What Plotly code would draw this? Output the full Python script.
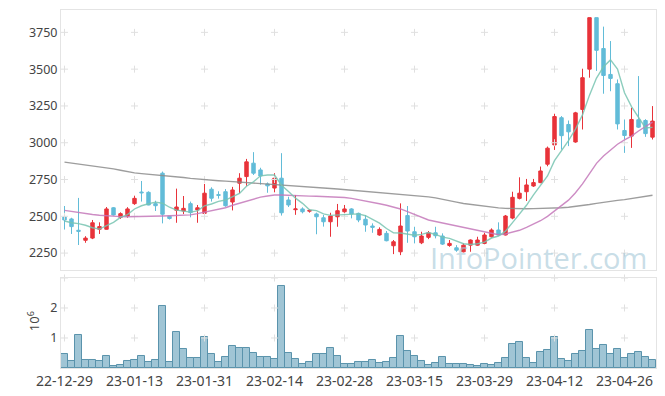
import plotly.graph_objects as go
from plotly.subplots import make_subplots

dates = [
    "22-12-29",
    "23-01-02", "23-01-03", "23-01-04", "23-01-05", "23-01-06", "23-01-09", "23-01-10", "23-01-11", "23-01-12", "23-01-13",
    "23-01-16", "23-01-17", "23-01-18", "23-01-19", "23-01-20", "23-01-25", "23-01-26", "23-01-27", "23-01-30", "23-01-31",
    "23-02-01", "23-02-02", "23-02-03", "23-02-06", "23-02-07", "23-02-08", "23-02-09", "23-02-10", "23-02-13", "23-02-14",
    "23-02-15", "23-02-16", "23-02-17", "23-02-20", "23-02-21", "23-02-22", "23-02-23", "23-02-24", "23-02-27", "23-02-28",
    "23-03-02", "23-03-03", "23-03-06", "23-03-07", "23-03-08", "23-03-09", "23-03-10", "23-03-13", "23-03-14", "23-03-15",
    "23-03-16", "23-03-17", "23-03-20", "23-03-21", "23-03-22", "23-03-23", "23-03-24", "23-03-27", "23-03-28", "23-03-29",
    "23-03-30", "23-03-31", "23-04-03", "23-04-04", "23-04-05", "23-04-06", "23-04-07", "23-04-10", "23-04-11", "23-04-12",
    "23-04-13", "23-04-14", "23-04-17", "23-04-18", "23-04-19", "23-04-20", "23-04-21", "23-04-24", "23-04-25", "23-04-26",
    "23-04-27", "23-04-28", "23-05-02", "23-05-03",
]

opens = [
    2495, 2482, 2405, 2337, 2352, 2412, 2412, 2558, 2493, 2502,
    2586, 2665, 2663, 2586, 2793, 2500, 2541, 2536, 2586, 2543,
    2520, 2684, 2647, 2667, 2597, 2725, 2770, 2861, 2815, 2720,
    2692, 2759, 2611, 2545, 2550, 2535, 2516, 2490, 2463, 2497,
    2531, 2550, 2520, 2480, 2434, 2373, 2384, 2300, 2259, 2505,
    2395, 2320, 2357, 2388, 2366, 2302, 2286, 2259, 2304, 2304,
    2316, 2361, 2407, 2373, 2488, 2622, 2667, 2706, 2729, 2854,
    2985, 3170, 3124, 3005, 3226, 3500, 3850, 3640, 3464, 3401,
    3083, 3045, 3156, 3151, 3038,
]
highs = [
    2570, 2490, 2625, 2365, 2475, 2459, 2563, 2563, 2527, 2562,
    2640, 2740, 2670, 2606, 2804, 2503, 2688, 2638, 2600, 2577,
    2720, 2697, 2670, 2685, 2700, 2793, 2890, 2936, 2830, 2730,
    2793, 2929, 2633, 2645, 2561, 2548, 2525, 2509, 2524, 2584,
    2577, 2555, 2525, 2509, 2452, 2425, 2400, 2339, 2588, 2570,
    2429, 2395, 2400, 2429, 2384, 2339, 2304, 2316, 2343, 2361,
    2388, 2418, 2459, 2509, 2667, 2765, 2754, 2754, 2838, 2974,
    3197, 3181, 3151, 3210, 3503, 3850, 3850, 3789, 3691, 3430,
    3158, 3237, 3453, 3160, 3249,
]
lows = [
    2410, 2380, 2305, 2320, 2345, 2380, 2410, 2505, 2482, 2490,
    2578, 2600, 2575, 2536, 2452, 2478, 2456, 2515, 2493, 2456,
    2515, 2600, 2620, 2565, 2540, 2657, 2707, 2781, 2715, 2660,
    2663, 2505, 2563, 2510, 2520, 2525, 2378, 2430, 2361, 2429,
    2520, 2486, 2460, 2395, 2388, 2368, 2330, 2243, 2236, 2320,
    2316, 2311, 2345, 2350, 2305, 2293, 2259, 2255, 2259, 2300,
    2310, 2355, 2370, 2370, 2480, 2615, 2604, 2700, 2725, 2840,
    2951, 2953, 2977, 3000, 3090, 3442, 3488, 3333, 3350, 3090,
    2931, 2965, 3100, 3040, 3022,
]
closes = [
    2475, 2430, 2398, 2352, 2456, 2430, 2550, 2509, 2518, 2550,
    2622, 2660, 2577, 2572, 2514, 2485, 2563, 2554, 2525, 2558,
    2657, 2623, 2643, 2572, 2679, 2759, 2870, 2793, 2774, 2707,
    2759, 2524, 2577, 2550, 2531, 2540, 2497, 2463, 2502, 2538,
    2550, 2516, 2475, 2441, 2425, 2411, 2334, 2327, 2434, 2400,
    2361, 2366, 2388, 2368, 2311, 2316, 2270, 2304, 2339, 2339,
    2373, 2407, 2373, 2502, 2629, 2657, 2713, 2729, 2808, 2963,
    3178, 3048, 3074, 3203, 3442, 3850, 3628, 3457, 3437, 3128,
    3049, 3158, 3106, 3062, 3147,
]
# volume in millions of shares
volume_m = [
    0.48, 0.22, 1.11, 0.26, 0.28, 0.22, 0.41, 0.06, 0.11, 0.22,
    0.26, 0.41, 0.19, 0.28, 2.06, 0.19, 1.19, 0.64, 0.34, 0.34,
    1.02, 0.48, 0.19, 0.38, 0.74, 0.68, 0.68, 0.51, 0.38, 0.38,
    0.31, 2.72, 0.51, 0.31, 0.14, 0.21, 0.48, 0.48, 0.68, 0.41,
    0.12, 0.12, 0.20, 0.20, 0.27, 0.17, 0.20, 0.34, 1.08, 0.57,
    0.40, 0.24, 0.10, 0.17, 0.37, 0.13, 0.13, 0.13, 0.10, 0.07,
    0.13, 0.10, 0.17, 0.34, 0.81, 0.88, 0.34, 0.17, 0.54, 0.61,
    1.04, 0.30, 0.24, 0.47, 0.57, 1.28, 0.64, 0.78, 0.47, 0.64,
    0.34, 0.47, 0.54, 0.37, 0.27,
]
# closes of the four sessions before the first visible day (for the 5-day average)
prev_closes = [2490, 2428, 2407, 2540]

ma20 = [
    2540, 2532, 2525, 2518, 2512, 2507, 2503, 2500, 2498, 2497,
    2497, 2497, 2498, 2499, 2502, 2504, 2506, 2508, 2510, 2518,
    2528, 2538, 2548, 2558, 2575, 2590, 2605, 2620, 2630, 2638,
    2645, 2645, 2642, 2640, 2638, 2637, 2636, 2635, 2634, 2632,
    2628, 2622, 2614, 2605, 2595, 2585, 2575, 2563, 2550, 2532,
    2512, 2490, 2475, 2465, 2455, 2445, 2432, 2425, 2415, 2400,
    2390, 2380, 2375, 2380, 2390, 2405, 2425, 2445, 2470, 2500,
    2535, 2570, 2610, 2660, 2720, 2790, 2860, 2910, 2950, 2990,
    3020, 3045, 3080, 3110, 3140,
]
ma120 = [
    2868, 2862, 2857, 2851, 2845, 2838, 2830, 2822, 2813, 2803,
    2795, 2790, 2786, 2783, 2780, 2776, 2770, 2764, 2758, 2753,
    2749, 2745, 2742, 2739, 2736, 2733, 2730, 2727, 2724, 2720,
    2716, 2712, 2708, 2704, 2701, 2698, 2695, 2692, 2689, 2686,
    2682, 2677, 2672, 2667, 2663, 2659, 2655, 2652, 2649, 2647,
    2644, 2638, 2632, 2625, 2617, 2607, 2596, 2587, 2580, 2574,
    2566, 2560, 2557, 2554, 2552, 2552, 2551, 2552, 2553, 2554,
    2556, 2558, 2562, 2567, 2572, 2580, 2588, 2596, 2603, 2608,
    2613, 2620, 2627, 2635, 2643,
]

price_ticks = [2250, 2500, 2750, 3000, 3250, 3500, 3750]
volume_ticks = [1, 2]
date_tick_step = 10

# ---------------------------------------------------------------
n = len(closes)
xs = list(range(n))
full = prev_closes + closes
ma5 = [sum(full[i:i + 5]) / 5 for i in range(n)]

tick_idx = list(range(0, n, date_tick_step))
tick_txt = [dates[i] for i in tick_idx]

UP = "#e8333a"
DOWN = "#62bcd8"
FONT = "Noto Sans"
FRAME = "#e4e4e4"
PLUS = "#e0e0e0"

fig = make_subplots(rows=2, cols=1, shared_xaxes=True,
                    row_heights=[0.74, 0.26], vertical_spacing=0.022)

# grid "+" marks at tick intersections
gx, gy = [], []
for t in tick_idx:
    for p in price_ticks:
        gx.append(t); gy.append(p)
fig.add_trace(go.Scatter(x=gx, y=gy, mode="markers", hoverinfo="skip",
                         marker=dict(symbol="cross-thin", size=5,
                                     line=dict(width=1, color=PLUS)),
                         showlegend=False), row=1, col=1)
vx, vy = [], []
for t in tick_idx:
    for v in volume_ticks + [3]:
        vx.append(t); vy.append(v)
fig.add_trace(go.Scatter(x=vx, y=vy, mode="markers", hoverinfo="skip",
                         cliponaxis=False,
                         marker=dict(symbol="cross-thin", size=5,
                                     line=dict(width=1, color=PLUS)),
                         showlegend=False), row=2, col=1)

fig.add_trace(go.Candlestick(
    x=xs, open=opens, high=highs, low=lows, close=closes,
    increasing=dict(line=dict(color=UP, width=1), fillcolor=UP),
    decreasing=dict(line=dict(color=DOWN, width=1), fillcolor=DOWN),
    showlegend=False), row=1, col=1)

fig.add_trace(go.Scatter(x=xs, y=ma120, mode="lines",
                         line=dict(color="rgba(140,140,140,0.85)", width=1.4),
                         showlegend=False), row=1, col=1)
fig.add_trace(go.Scatter(x=xs, y=ma20, mode="lines",
                         line=dict(color="rgba(196,120,186,0.85)", width=1.4),
                         showlegend=False), row=1, col=1)
fig.add_trace(go.Scatter(x=xs, y=ma5, mode="lines",
                         line=dict(color="rgba(120,196,178,0.85)", width=1.4),
                         showlegend=False), row=1, col=1)

fig.add_trace(go.Bar(x=xs, y=volume_m,
                     marker=dict(color="rgba(136,182,202,0.8)",
                                 line=dict(color="#5a93ac", width=1)),
                     showlegend=False), row=2, col=1)

# the page body adds an 8px offset, so the figure is 8px smaller than the window
fig.update_layout(
    width=657, height=388,
    margin=dict(l=53, r=9, t=2, b=28),
    paper_bgcolor="white", plot_bgcolor="white",
    bargap=0, boxgap=0.3,
    font=dict(family=FONT, color="#444444", size=12),
    hovermode=False,
)
fig.update_xaxes(range=[-0.5, n - 0.5], showgrid=False, zeroline=False,
                 showline=True, mirror=True, linecolor=FRAME, linewidth=1,
                 rangeslider_visible=False, ticks="")
fig.update_xaxes(showticklabels=False, row=1, col=1)
fig.update_xaxes(tickmode="array", tickvals=tick_idx, ticktext=tick_txt,
                 tickfont=dict(size=14, family=FONT, color="#444444"),
                 row=2, col=1)
fig.update_yaxes(showgrid=False, zeroline=False, showline=True, mirror=True,
                 linecolor=FRAME, linewidth=1, ticks="")
fig.update_yaxes(range=[2135, 3902], tickmode="array", tickvals=price_ticks,
                 tickfont=dict(size=12.5), row=1, col=1)
fig.update_yaxes(range=[0, 3], tickmode="array", tickvals=volume_ticks,
                 tickfont=dict(size=12.5), row=2, col=1)

fig.update_layout(
    yaxis=dict(domain=[0.2737, 1.0]),
    yaxis2=dict(domain=[0.0, 0.2514]),
)

fig.add_annotation(text="10<sup>6</sup>", xref="paper", yref="paper",
                   x=-0.047, y=0.131, xanchor="center", yanchor="middle",
                   showarrow=False, textangle=-90,
                   font=dict(size=13, color="#444444", family=FONT))
fig.add_annotation(text="InfoPointer.com", xref="paper", yref="paper",
                   x=0.803, y=0.308, xanchor="center", yanchor="middle",
                   showarrow=False,
                   font=dict(size=29, color="rgba(165,200,216,0.62)",
                             family="Open Sans"))

fig.write_html("out.html")
